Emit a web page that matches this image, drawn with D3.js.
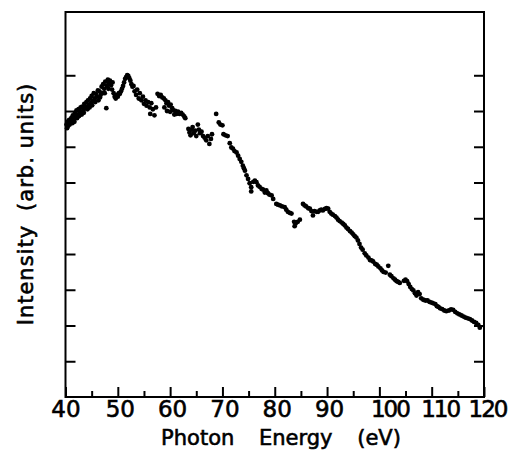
<!DOCTYPE html>
<html>
<head>
<meta charset="utf-8">
<script src="https://cdn.jsdelivr.net/npm/d3@7"></script>
<style>
  body { margin: 0; background: #fff; }
  svg { display: block; }
  text { font-family: "DejaVu Sans", sans-serif; fill: #000; stroke: #000; stroke-width: 0.6px; }
</style>
</head>
<body>
<svg id="chart" width="509" height="457"></svg>
<script>
// photon energy (eV), intensity (arb. units)
const risingEdge = [
  [40.2,7.62],[40.3,7.52],[40.4,7.70],[40.5,7.58],[40.7,7.75],[40.8,7.62],[40.9,7.68],[41.1,7.80],
  [41.2,7.72],[41.3,7.66],[41.4,7.88],[41.6,7.78],[41.7,7.70],[41.8,7.95],[42.0,7.85],[42.1,8.02],
  [42.2,7.80],[42.3,7.90],[42.5,8.05],[42.6,7.86],[42.7,7.95],[42.9,8.10],[43.0,7.98],[43.1,7.90],
  [43.2,8.12],[43.4,8.02],[43.5,7.95],[43.6,8.20],[43.8,8.08],[44.0,8.25],[44.1,8.12],[44.2,8.05],
  [44.3,8.30],[44.5,8.18],[44.6,8.10],[44.7,8.35],[44.9,8.22],[45.0,8.42],[45.1,8.16],[45.2,8.28],
  [45.4,8.50],[45.6,8.35],[45.7,8.25],[45.8,8.48],[46.0,8.40],[46.2,8.58],[46.3,8.30],[46.5,8.55],
  [46.6,8.38],[46.7,8.45],[46.9,8.68],[47.1,8.50],[47.2,8.75],[47.4,8.62],[47.5,8.50],[47.6,8.82],
  [47.8,8.08],[47.9,8.70],[48.1,8.88],[48.2,8.62],[48.3,8.78],[48.5,8.85],[48.7,8.72],[48.9,8.60],
  [49.0,8.80],[49.2,8.50],[49.4,8.40],[49.6,8.35],[49.8,8.45],[50.0,8.40],[50.2,8.50],[50.4,8.48],
  [50.6,8.55],[50.8,8.62],[51.0,8.70],[51.2,8.80],[51.4,8.90],[51.6,8.95],[51.8,9.00],[52.0,8.98],
  [52.2,8.92],[52.4,8.85],[52.6,8.75],[52.8,8.68]
];

const peakShoulder = [
  [53.0,8.70],[53.2,8.55],[53.5,8.45],[53.7,8.60],[54.0,8.35],[54.2,8.50],[54.5,8.30],[54.8,8.40],
  [55.0,8.20],[55.3,8.30],[55.5,8.15],[55.8,8.25],[56.1,8.10],[56.4,8.22],[56.2,7.92],[56.7,8.05],
  [57.0,7.88],[57.3,8.10],[57.6,8.48],[57.9,8.42],[58.2,8.45],[58.5,8.38],[58.8,8.35],[58.9,8.10],
  [59.1,8.30],[59.3,8.22],[59.4,8.00],[59.6,8.25],[59.8,8.15],[60.0,7.98],[60.1,8.18],[60.4,8.08],
  [60.6,8.02],[60.8,7.90],[61.0,8.00],[61.2,7.92],[61.5,7.98],[61.8,7.92],[62.1,7.95],[62.4,7.90],
  [62.7,7.85],[62.9,7.80]
];

const dipRegion = [
  [63.5,7.50],[63.7,7.40],[63.9,7.32],[64.1,7.48],[64.3,7.55],[64.5,7.38],[64.8,7.45],[65.0,7.30],
  [65.3,7.62],[65.5,7.48],[65.7,7.38],[66.0,7.42],[66.3,7.30],[66.6,7.25],[66.9,7.18],[67.2,7.30],
  [67.5,7.08],[67.8,7.22],[68.0,7.35],[68.8,7.92],[69.3,7.68],[69.6,7.62],[70.0,7.60],[70.2,7.35],
  [70.6,7.32],[71.0,7.30]
];

const fallingEdge = [
  [71.4,7.10],[71.7,6.98],[72.0,6.95],[72.3,6.88],[72.7,6.84],[73.0,6.75],[73.3,6.66],[73.6,6.58],
  [73.9,6.47],[74.1,6.40],[74.3,6.33],[74.6,6.20],[74.9,6.10],[75.2,5.98],[75.5,5.87],[75.5,5.75],
  [75.9,6.02],[76.2,6.05],[76.5,6.01],[76.8,5.92],[77.1,5.88],[77.5,5.82],[77.8,5.80],[78.1,5.72],
  [78.4,5.78],[78.7,5.70],[79.0,5.66],[79.4,5.64],[79.7,5.54],[80.3,5.40],[80.6,5.38],[81.0,5.36],
  [81.4,5.33],[81.9,5.31],[82.2,5.24],[82.5,5.18],[82.9,5.15],[83.2,5.13],[83.7,4.90],[83.8,4.78],
  [84.0,4.85],[84.4,4.90],[84.8,4.96]
];

const secondBump = [
  [85.4,5.40],[85.7,5.36],[86.0,5.33],[86.4,5.28],[86.7,5.27],[87.0,5.20],[87.3,5.08],[87.6,5.20],
  [88.0,5.18],[88.3,5.18],[88.6,5.22],[88.9,5.24],[89.2,5.22],[89.6,5.26],[89.9,5.28],[90.2,5.27],
  [90.5,5.18],[90.8,5.13],[91.1,5.10],[91.5,5.06],[91.8,5.02],[92.1,4.96],[92.4,4.92],[92.8,4.88],
  [93.1,4.84],[93.4,4.80],[93.7,4.74],[94.0,4.70],[94.4,4.64],[94.7,4.60],[95.0,4.55],[95.3,4.50],
  [95.6,4.46],[95.9,4.38],[96.2,4.28],[96.5,4.18],[96.8,4.12],[97.2,4.02],[97.5,3.96],[97.9,3.90],
  [98.2,3.83],[98.5,3.82],[98.8,3.79],[99.2,3.72],[99.5,3.70],[99.8,3.65]
];

const tail = [
  [100.2,3.60],[100.5,3.54],[100.8,3.50],[101.2,3.48],[101.7,3.67],[102.0,3.42],[102.3,3.38],[102.7,3.32],
  [103.0,3.28],[103.3,3.24],[103.6,3.22],[103.9,3.19],[104.7,3.25],[105.0,3.28],[105.3,3.24],[105.6,3.16],
  [105.9,3.08],[106.2,3.02],[106.5,2.98],[106.8,2.90],[107.1,2.84],[107.4,2.93],[107.7,2.88],[108.0,2.76],
  [108.4,2.72],[108.8,2.70],[109.2,2.70],[109.6,2.66],[110.0,2.64],[110.3,2.62],[110.7,2.60],[111.0,2.54],
  [111.3,2.52],[111.6,2.48],[112.0,2.46],[112.4,2.42],[112.8,2.40],[113.3,2.42],[113.7,2.45],[114.1,2.44],
  [114.5,2.38],[114.9,2.34],[115.3,2.31],[115.7,2.28],[116.1,2.25],[116.5,2.22],[116.9,2.20],[117.3,2.18],
  [117.7,2.14],[118.1,2.10],[118.5,2.07],[118.9,2.02],[119.2,1.94]
];

const xTicks = [40, 45, 50, 55, 60, 65, 70, 75, 80, 85, 90, 95, 100, 105, 110, 115, 120];
const yTicks = [1, 2, 3, 4, 5, 6, 7, 8, 9];

const svg = d3.select("#chart");
const plotLeft = 65.5, plotRight = 484, plotTop = 12, plotBottom = 397;

const x = d3.scaleLinear().domain([40, 120]).range([plotLeft, plotRight]);
const y = d3.scaleLinear().domain([0, 10.77]).range([plotBottom, plotTop]);

// bottom axis: long ticks on tens, short ones on fives
const xAxis = svg.append("g")
  .attr("transform", `translate(0,${plotBottom})`)
  .call(d3.axisBottom(x).tickValues(xTicks).tickSizeInner(-10).tickSizeOuter(0).tickPadding(4)
    .tickFormat(d => d % 10 === 0 ? d : ""));
xAxis.select(".domain").remove();
xAxis.selectAll(".tick line")
  .attr("y2", d => d % 10 === 0 ? -10 : -6)
  .attr("stroke-width", 2);
xAxis.selectAll(".tick text")
  .attr("font-size", 23)
  .attr("letter-spacing", d => d >= 100 ? -2 : 0)
  .attr("dx", d => d === 100 ? 10 : d === 110 ? 8 : d === 120 ? 3 : d > 40 ? 2 : 0);

// unlabelled ticks on both sides
const yLeft = svg.append("g")
  .attr("transform", `translate(${plotLeft},0)`)
  .call(d3.axisLeft(y).tickValues(yTicks).tickSizeInner(-10).tickSizeOuter(0).tickFormat(""));
const yRight = svg.append("g")
  .attr("transform", `translate(${plotRight},0)`)
  .call(d3.axisRight(y).tickValues(yTicks).tickSizeInner(-10).tickSizeOuter(0).tickFormat(""));
[yLeft, yRight].forEach(g => {
  g.select(".domain").remove();
  g.selectAll(".tick line").attr("stroke-width", 2);
});

// frame
svg.append("rect")
  .attr("x", plotLeft).attr("y", plotTop)
  .attr("width", plotRight - plotLeft).attr("height", plotBottom - plotTop)
  .attr("fill", "none").attr("stroke", "#000").attr("stroke-width", 2);

// data points
const allPoints = [].concat(risingEdge, peakShoulder, dipRegion, fallingEdge, secondBump, tail);
svg.append("g")
  .selectAll("circle")
  .data(allPoints)
  .join("circle")
  .attr("cx", d => x(d[0]))
  .attr("cy", d => y(d[1]))
  .attr("r", 2.4)
  .attr("fill", "#000");

// axis titles
svg.append("text")
  .attr("x", 281).attr("y", 445)
  .attr("text-anchor", "middle")
  .attr("font-size", 21)
  .attr("word-spacing", 18)
  .text("Photon Energy (eV)");

const yTitle = svg.append("text")
  .attr("transform", "translate(33,204) rotate(-90)")
  .attr("text-anchor", "middle")
  .attr("font-size", 21)
  .attr("letter-spacing", 1);
yTitle.append("tspan").text("Intensity");
yTitle.append("tspan").attr("dx", 14).text("(arb. units)");
</script>
</body>
</html>
